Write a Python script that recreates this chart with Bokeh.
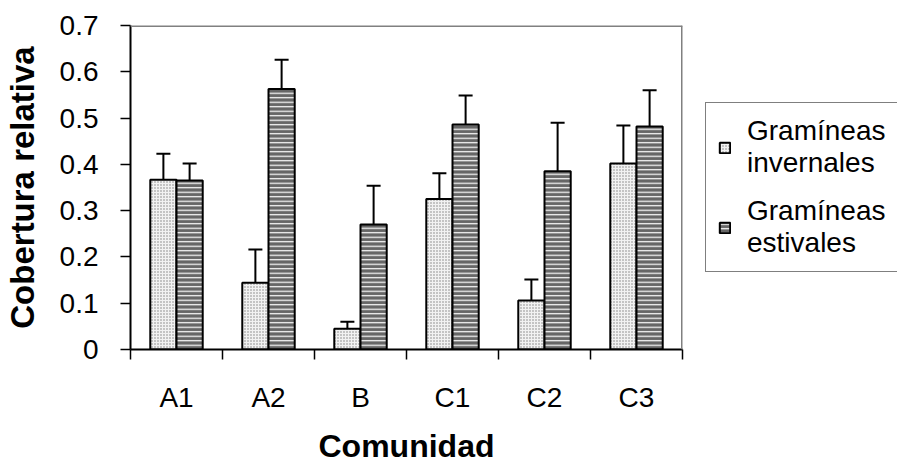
from bokeh.plotting import figure
from bokeh.models import (ColumnDataSource, Range1d, FixedTicker, NumeralTickFormatter,
                          Whisker, TeeHead, Legend, LegendItem, Span)
from bokeh.embed import file_html
from bokeh.resources import INLINE

# ---- data ----
communities = ["A1", "A2", "B", "C1", "C2", "C3"]
invernales = [0.367, 0.144, 0.045, 0.325, 0.106, 0.402]
invernales_lo = [0.315, 0.070, 0.027, 0.268, 0.052, 0.315]
invernales_hi = [0.423, 0.216, 0.060, 0.381, 0.151, 0.484]
estivales = [0.365, 0.563, 0.270, 0.486, 0.385, 0.482]
estivales_lo = [0.322, 0.497, 0.181, 0.415, 0.279, 0.393]
estivales_hi = [0.402, 0.626, 0.354, 0.549, 0.490, 0.560]
y_ticks = [0, 0.1, 0.2, 0.3, 0.4, 0.5, 0.6, 0.7]
series_labels = ["Gramíneas\ninvernales", "Gramíneas\nestivales"]
x_title = "Comunidad"
y_title = "Cobertura relativa"

FONT = "Liberation Sans"
BW = 0.285  # bar width, in category units

n = len(communities)
centers = [i + 0.5 for i in range(n)]          # category slots on the linear scale
bounds = [i for i in range(n + 1)]             # category boundaries (tick marks)

src = ColumnDataSource(dict(
    x_inv=[c - BW / 2 for c in centers], x_est=[c + BW / 2 for c in centers],
    inv=invernales, inv_lo=invernales_lo, inv_hi=invernales_hi,
    est=estivales, est_lo=estivales_lo, est_hi=estivales_hi))

p = figure(x_range=Range1d(0, n), y_range=Range1d(0, 0.7),
           frame_width=552, frame_height=324, width=881, height=464,
           output_backend="svg", toolbar_location=None,
           min_border_left=124, min_border_right=205, min_border_top=25,
           min_border_bottom=115)
p.background_fill_color = "white"
p.border_fill_color = "white"
p.outline_line_color = None
p.xgrid.visible = False
p.ygrid.visible = False

# grey plot-area border on top and right
p.add_layout(Span(location=p.y_range.end, dimension="width",
                  line_color="#808080", line_width=3))
p.add_layout(Span(location=p.x_range.end, dimension="height",
                  line_color="#808080", line_width=3))

r1 = p.vbar(x="x_inv", top="inv", width=BW, source=src,
            fill_color="#f2f2f2", hatch_pattern="dot", hatch_color="#808080",
            hatch_scale=3, hatch_weight=1.2,
            line_color="black", line_width=2)
r2 = p.vbar(x="x_est", top="est", width=BW, source=src,
            fill_color="#666666", hatch_pattern="horizontal_line", hatch_color="white",
            hatch_scale=4.5, hatch_weight=1.2,
            line_color="black", line_width=2)

for xb, lo, hi in [("x_inv", "inv_lo", "inv_hi"), ("x_est", "est_lo", "est_hi")]:
    w = Whisker(base=xb, lower=lo, upper=hi, source=src,
                line_color="black", line_width=2,
                upper_head=TeeHead(size=14, line_width=2, line_color="black"),
                lower_head=TeeHead(size=14, line_width=2, line_color="black"))
    p.add_layout(w)

# y axis
ya = p.yaxis[0]
ya.ticker = FixedTicker(ticks=y_ticks, minor_ticks=[])
ya.formatter = NumeralTickFormatter(format="0.[0]")
ya.axis_line_color = "black"
ya.axis_line_width = 2
ya.major_tick_out = 10
ya.major_tick_in = 0
ya.major_tick_line_width = 1.5
ya.minor_tick_line_color = None
ya.major_label_text_font = FONT
ya.major_label_text_font_size = "28px"
ya.major_label_text_color = "black"
ya.major_label_standoff = 22
ya.axis_label = y_title
ya.axis_label_text_font = FONT
ya.axis_label_text_font_style = "bold"
ya.axis_label_text_font_size = "33px"
ya.axis_label_text_color = "black"
ya.axis_label_standoff = 16

# x axis: labels at category centres, tick marks at category boundaries
xa = p.xaxis[0]
xa.ticker = FixedTicker(ticks=centers, minor_ticks=bounds)
xa.major_label_overrides = {c: lab for c, lab in zip(centers, communities)}
xa.axis_line_color = "black"
xa.axis_line_width = 2
xa.major_tick_line_color = None
xa.major_tick_out = 10
xa.major_tick_in = 0
xa.minor_tick_line_color = "black"
xa.minor_tick_line_width = 1.5
xa.minor_tick_out = 10
xa.minor_tick_in = 0
xa.major_label_text_font = FONT
xa.major_label_text_font_size = "28px"
xa.major_label_text_color = "black"
xa.major_label_standoff = 22
xa.axis_label = x_title
xa.axis_label_text_font = FONT
xa.axis_label_text_font_style = "bold"
xa.axis_label_text_font_size = "32px"
xa.axis_label_text_color = "black"
xa.axis_label_standoff = 12

legend = Legend(items=[LegendItem(label=series_labels[0], renderers=[r1]),
                       LegendItem(label=series_labels[1], renderers=[r2])],
                location=(23, 77),
                label_text_font=FONT, label_text_font_size="28px",
                label_text_color="black", label_text_line_height=1.32,
                glyph_width=13, glyph_height=13, label_standoff=16,
                padding=12, spacing=16, margin=0,
                border_line_color="black", border_line_width=1.5,
                background_fill_color="white", background_fill_alpha=1)
p.add_layout(legend, "right")

open("out.html", "w").write(file_html(p, INLINE))
